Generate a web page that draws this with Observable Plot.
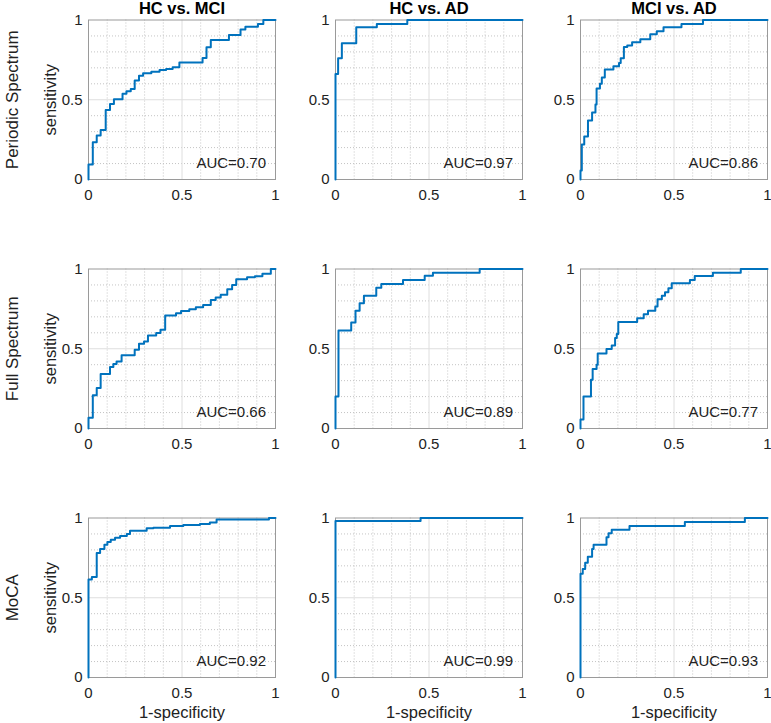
<!DOCTYPE html>
<html>
<head>
<meta charset="utf-8">
<script src="https://cdn.jsdelivr.net/npm/d3@7"></script>
<script src="https://cdn.jsdelivr.net/npm/@observablehq/plot@0.6"></script>
<style>
  html, body { margin: 0; padding: 0; background: #fff; }
  #chart { position: relative; width: 771px; height: 723px; overflow: hidden; }
  #chart > svg { position: absolute; }
</style>
</head>
<body>
<div id="chart"></div>
<script>
// ---- Labels ----
const rowLabels = ["Periodic Spectrum", "Full Spectrum", "MoCA"];
const colTitles = ["HC vs. MCI", "HC vs. AD", "MCI vs. AD"];
const xLabel = "1-specificity";
const yLabel = "sensitivity";
const majorTicks = [0, 0.5, 1];
const minorTicks = [0.1, 0.2, 0.3, 0.4, 0.6, 0.7, 0.8, 0.9];
const aucValues = [0.70, 0.97, 0.86, 0.66, 0.89, 0.77, 0.92, 0.99, 0.93];

// ---- ROC curves (step points: at fpr x the curve jumps to tpr y) ----
const periodicHcMciFpr = [0, 0, 0.023, 0.044, 0.065, 0.092, 0.115, 0.136, 0.182, 0.203, 0.226, 0.247, 0.270, 0.292, 0.336, 0.38, 0.415, 0.45, 0.486, 0.61, 0.631, 0.654, 0.751, 0.813, 0.839, 0.906, 0.935, 1];
const periodicHcMciTpr = [0, 0.094, 0.234, 0.276, 0.311, 0.436, 0.474, 0.503, 0.537, 0.553, 0.568, 0.62, 0.651, 0.666, 0.676, 0.687, 0.693, 0.703, 0.733, 0.762, 0.829, 0.875, 0.906, 0.94, 0.958, 0.975, 1, 1];

const periodicHcAdFpr = [0, 0, 0.014, 0.034, 0.111, 0.221, 0.384, 1];
const periodicHcAdTpr = [0, 0.662, 0.76, 0.854, 0.954, 0.975, 1, 1];

const periodicMciAdFpr = [0, 0, 0.007, 0.02, 0.04, 0.062, 0.08, 0.086, 0.104, 0.114, 0.13, 0.176, 0.206, 0.215, 0.232, 0.25, 0.276, 0.32, 0.373, 0.408, 0.444, 0.54, 0.655, 1];
const periodicMciAdTpr = [0, 0.056, 0.22, 0.27, 0.37, 0.42, 0.47, 0.57, 0.6, 0.64, 0.69, 0.71, 0.73, 0.76, 0.83, 0.84, 0.86, 0.88, 0.91, 0.93, 0.955, 0.975, 1, 1];

const fullHcMciFpr = [0, 0, 0.023, 0.044, 0.065, 0.115, 0.133, 0.15, 0.177, 0.247, 0.27, 0.297, 0.318, 0.362, 0.385, 0.41, 0.468, 0.495, 0.539, 0.574, 0.613, 0.654, 0.68, 0.707, 0.742, 0.768, 0.79, 0.848, 0.89, 0.93, 0.975, 1];
const fullHcMciTpr = [0, 0.067, 0.208, 0.254, 0.342, 0.385, 0.404, 0.42, 0.46, 0.494, 0.531, 0.546, 0.583, 0.598, 0.619, 0.708, 0.723, 0.737, 0.748, 0.76, 0.775, 0.806, 0.821, 0.838, 0.873, 0.9, 0.935, 0.948, 0.955, 0.97, 1, 1];

const fullHcAdFpr = [0, 0, 0.016, 0.084, 0.107, 0.129, 0.152, 0.218, 0.245, 0.361, 0.477, 0.521, 0.771, 1];
const fullHcAdTpr = [0, 0.2, 0.615, 0.665, 0.738, 0.785, 0.833, 0.883, 0.906, 0.931, 0.958, 0.977, 1, 1];

const fullMciAdFpr = [0, 0, 0.016, 0.056, 0.065, 0.086, 0.092, 0.139, 0.167, 0.185, 0.194, 0.202, 0.303, 0.338, 0.361, 0.4, 0.412, 0.435, 0.452, 0.47, 0.488, 0.585, 0.611, 0.708, 0.857, 1];
const fullMciAdTpr = [0, 0.056, 0.2, 0.306, 0.373, 0.4, 0.471, 0.498, 0.521, 0.567, 0.592, 0.667, 0.692, 0.717, 0.738, 0.765, 0.81, 0.833, 0.854, 0.879, 0.91, 0.931, 0.956, 0.977, 1, 1];

const mocaHcMciFpr = [0, 0, 0.018, 0.044, 0.062, 0.085, 0.101, 0.119, 0.142, 0.169, 0.205, 0.222, 0.311, 0.347, 0.436, 0.507, 0.596, 0.649, 0.685, 0.965, 1];
const mocaHcMciTpr = [0, 0.614, 0.63, 0.78, 0.805, 0.832, 0.849, 0.864, 0.876, 0.887, 0.9, 0.92, 0.935, 0.939, 0.95, 0.956, 0.962, 0.972, 0.99, 1, 1];

const mocaHcAdFpr = [0, 0, 0.455, 1];
const mocaHcAdTpr = [0, 0.981, 1, 1];

const mocaMciAdFpr = [0, 0, 0.012, 0.025, 0.039, 0.062, 0.07, 0.139, 0.15, 0.167, 0.262, 0.558, 0.879, 1];
const mocaMciAdTpr = [0, 0.65, 0.681, 0.72, 0.757, 0.805, 0.832, 0.88, 0.905, 0.927, 0.95, 0.975, 1, 1];

const curves = [
  [periodicHcMciFpr, periodicHcMciTpr], [periodicHcAdFpr, periodicHcAdTpr], [periodicMciAdFpr, periodicMciAdTpr],
  [fullHcMciFpr, fullHcMciTpr], [fullHcAdFpr, fullHcAdTpr], [fullMciAdFpr, fullMciAdTpr],
  [mocaHcMciFpr, mocaHcMciTpr], [mocaHcAdFpr, mocaHcAdTpr], [mocaMciAdFpr, mocaMciAdTpr]
];

// ---- Layout ----
const colLeft = [88, 335, 580];
const rowTop = [19.5, 268.5, 517.5];
const frameW = 187, frameH = 159.5;
const FONT = "'Liberation Sans', Arial, Helvetica, sans-serif";
const INK = "#222";
const BLUE = "#0072BD";

const chart = document.getElementById("chart");

for (let r = 0; r < 3; r++) {
  for (let c = 0; c < 3; c++) {
    const i = r * 3 + c;
    const ml = c === 0 ? 88 : 50;
    const mr = c === 2 ? 4 : 10;
    const mt = 19.5;
    const mb = r === 2 ? 46 : 26;
    const [fpr, tpr] = curves[i];
    const pts = fpr.map((x, k) => ({x, y: tpr[k]}));

    const marks = [
      Plot.ruleX(minorTicks, {stroke: "#c4c4c4", strokeDasharray: "1,2", strokeWidth: 1}),
      Plot.ruleY(minorTicks, {stroke: "#c4c4c4", strokeDasharray: "1,2", strokeWidth: 1}),
      Plot.ruleX([0.5], {stroke: "#dedede", strokeWidth: 1}),
      Plot.ruleY([0.5], {stroke: "#dedede", strokeWidth: 1}),
      Plot.frame({stroke: "#9a9a9a", strokeWidth: 1}),
      Plot.line(pts, {x: "x", y: "y", curve: "step-after", stroke: BLUE, strokeWidth: 2}),
      Plot.text([`AUC=${aucValues[i].toFixed(2)}`], {
        text: d => d, frameAnchor: "bottom-right", textAnchor: "end", lineAnchor: "middle",
        dx: -9.5, dy: -16, fontSize: 15, fill: INK
      })
    ];
    if (r === 0) {
      marks.push(Plot.text([colTitles[c]], {
        text: d => d, frameAnchor: "top", textAnchor: "middle", lineAnchor: "middle",
        dy: -11.5, fontSize: 16.5, fontWeight: "bold", fill: "#000"
      }));
    }
    if (c === 0) {
      marks.push(Plot.text([yLabel], {
        text: d => d, frameAnchor: "left", textAnchor: "middle", lineAnchor: "middle",
        rotate: -90, dx: -38, fontSize: 16.5, fill: INK
      }));
      marks.push(Plot.text([rowLabels[r]], {
        text: d => d, frameAnchor: "left", textAnchor: "middle", lineAnchor: "middle",
        rotate: -90, dx: -76, fontSize: 17, fill: INK
      }));
    }
    if (r === 2) {
      marks.push(Plot.text([xLabel], {
        text: d => d, frameAnchor: "bottom", textAnchor: "middle", lineAnchor: "middle",
        dy: 35, fontSize: 16.5, fill: INK
      }));
    }

    const svg = Plot.plot({
      width: ml + frameW + mr,
      height: mt + frameH + mb,
      marginLeft: ml, marginRight: mr, marginTop: mt, marginBottom: mb,
      style: {fontFamily: FONT, fontSize: "15px", color: INK, background: "transparent", overflow: "visible"},
      x: {domain: [0, 1], ticks: majorTicks, tickFormat: d => String(d), tickSize: 0, tickPadding: 10, label: null},
      y: {domain: [0, 1], ticks: majorTicks, tickFormat: d => String(d), tickSize: 0, tickPadding: 6, label: null},
      marks
    });
    svg.style.left = (colLeft[c] - ml) + "px";
    svg.style.top = (rowTop[r] - mt) + "px";
    chart.appendChild(svg);
  }
}
</script>
</body>
</html>
